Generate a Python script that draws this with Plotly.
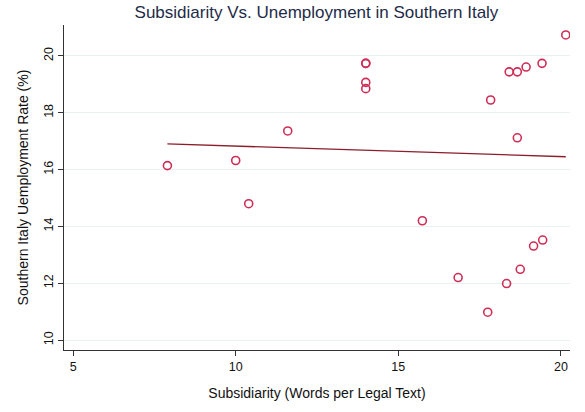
import numpy as np
import plotly.graph_objects as go

# Subsidiarity score (words per legal text) and unemployment rate by region/year
subsidiarity = [7.90, 10.00, 10.40, 11.60, 14.00, 14.00, 14.00, 14.00, 15.74, 16.84,
                17.75, 17.84, 18.33, 18.41, 18.66, 18.66, 18.75, 18.93, 19.16, 19.44,
                19.42, 20.15]
unemployment = [16.14, 16.32, 14.80, 17.36, 19.74, 19.74, 19.07, 18.85, 14.20, 12.20,
                10.98, 18.45, 11.99, 19.44, 19.44, 17.12, 12.49, 19.61, 13.31, 13.52,
                19.74, 20.74]

x_ticks = [5, 10, 15, 20]
y_ticks = [10, 12, 14, 16, 18, 20]

# Linear fit across the observed range
slope, intercept = np.polyfit(subsidiarity, unemployment, 1)
fit_x = [min(subsidiarity), max(subsidiarity)]
fit_y = [slope * v + intercept for v in fit_x]

font_family = "Liberation Sans, Arial, Helvetica, sans-serif"

fig = go.Figure()
fig.add_trace(go.Scatter(
    x=subsidiarity, y=unemployment, mode="markers",
    marker=dict(symbol="circle-open", size=8, color="#cf2c55",
                line=dict(width=1.6, color="#cf2c55")),
    showlegend=False, hoverinfo="x+y",
))
fig.add_trace(go.Scatter(
    x=fit_x, y=fit_y, mode="lines",
    line=dict(color="#8b1e2a", width=1.3),
    showlegend=False, hoverinfo="skip",
))

fig.update_layout(
    width=585, height=412,
    margin=dict(l=64, r=15, t=25, b=62),
    paper_bgcolor="white", plot_bgcolor="white",
    font=dict(family=font_family, color="#111111", size=12),
    title=dict(text="Subsidiarity Vs. Unemployment in Southern Italy",
               font=dict(size=17, color="#1e2b48", family=font_family),
               x=0.541, xanchor="center", y=0.985, yanchor="top"),
    xaxis=dict(
        range=[4.72, 20.28], tickmode="array", tickvals=x_ticks,
        ticks="outside", ticklen=5, tickwidth=1, tickcolor="#333333",
        showline=True, linecolor="#333333", linewidth=1,
        showgrid=False, zeroline=False,
        tickfont=dict(size=12.5, color="#111111"),
        title=dict(text="Subsidiarity (Words per Legal Text)",
                   font=dict(size=14, color="#111111"), standoff=15),
    ),
    yaxis=dict(
        range=[9.65, 21.09], tickmode="array", tickvals=y_ticks,
        ticks="outside", ticklen=5, tickwidth=1, tickcolor="#333333",
        showline=True, linecolor="#333333", linewidth=1,
        showgrid=True, gridcolor="#e9f1f3", gridwidth=1.2, zeroline=False,
        tickangle=-90,
        tickfont=dict(size=12.5, color="#111111"),
        title=dict(text="Southern Italy Uemployment Rate (%)",
                   font=dict(size=14, color="#111111"), standoff=10),
    ),
)

fig.write_html("out.html")
